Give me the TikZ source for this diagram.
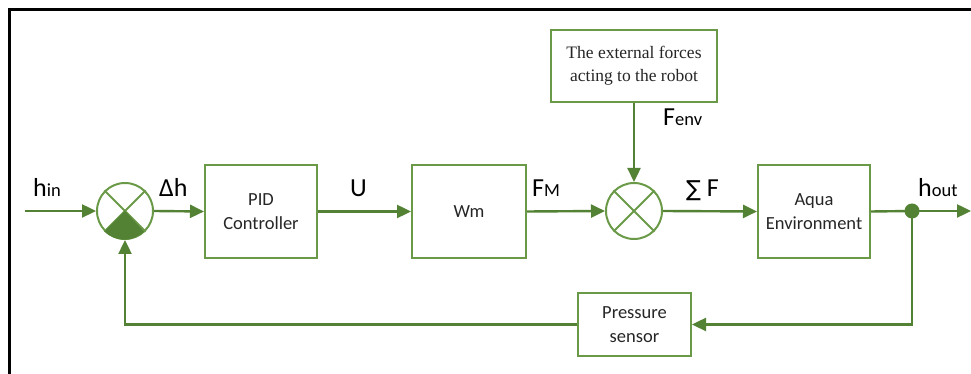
\documentclass[tikz,border=0pt]{standalone}
\usepackage{fontspec}
\setmainfont{Carlito}
\newfontfamily\timesfont{Liberation Serif}
\newfontfamily\symfont{DejaVu Sans}
\usepackage{xcolor}
\usetikzlibrary{positioning, calc, arrows.meta}
\definecolor{linegreen}{RGB}{84,130,53}
\definecolor{boxgreen}{RGB}{106,154,72}
\definecolor{textgray}{RGB}{38,38,38}
\tikzset{
  block/.style={draw=boxgreen, line width=2pt, fill=white, minimum width=112pt, minimum height=93pt,
    align=center, text=textgray, font=\fontsize{18.5}{24}\selectfont},
  sumnode/.style={draw=boxgreen, line width=2pt, circle, minimum size=56pt, inner sep=0pt},
  sig/.style={draw=linegreen, line width=2.4pt, -{Triangle[length=14pt,width=13pt]}},
  wire/.style={draw=linegreen, line width=2.4pt},
  siglabel/.style={anchor=base west, inner sep=0pt, text=black, font=\fontsize{26}{30}\selectfont},
}
\newcommand{\sub}[1]{{\fontsize{18.5}{22}\selectfont #1}}
\begin{document}
\begin{tikzpicture}[x=1pt,y=1pt]
        \useasboundingbox (0,0) rectangle (971,374);
        
        % ==========================================
        % Frame
        % ==========================================
        \draw[line width=3pt] (9,0) -- (9,364) -- (971,364);
        
        % ==========================================
        % Blocks and summing points
        % ==========================================
        \node[sumnode] (sumA) at (125,163) {};
        \node[block] (pid) at (261,162.5) {PID\\Controller};
        \node[block, minimum width=114pt] (wm) at (469,162.5) {Wm};
        \node[sumnode] (sumB) at (634,163) {};
        \node[block] (aqua) at (814,162.5) {Aqua\\Environment};
        \node[block, minimum width=166pt, minimum height=72pt, font=\timesfont\fontsize{17.5}{23}\selectfont]
          (ext) at (634,308) {The external forces\\acting to the robot};
        \node[block, minimum width=113pt, minimum height=63pt] (sensor) at (634.5,49.5) {Pressure\\sensor};
        \node[circle, fill=linegreen, minimum size=15pt, inner sep=0pt] (split) at (912,163) {};
        
        % crosses inside the summing points
        \foreach \s in {sumA,sumB} {
          \draw[boxgreen, line width=2pt] (\s.45) -- (\s.-135);
          \draw[boxgreen, line width=2pt] (\s.135) -- (\s.-45);
        }
        % filled lower sector of the first summing point
        \fill[linegreen] (sumA.center) -- (sumA.-135) arc[start angle=-135, end angle=-45, radius=28pt] -- cycle;
        
        % ==========================================
        % Signal flow
        % ==========================================
        \coordinate (hin) at (25,163);
        \coordinate (hout) at (971,163);
        \draw[sig] (hin) -- (sumA.west);
        \draw[sig] (sumA.east) -- (pid.west);
        \draw[sig] (pid.east) -- (wm.west);
        \draw[sig] (wm.east) -- (sumB.west);
        \draw[sig] (ext.south) -- (sumB.north);
        \draw[sig] (sumB.east) -- (aqua.west);
        \draw[wire] (aqua.east) -- (split.center);
        \draw[sig] (split.center) -- (hout);
        
        % feedback loop
        \draw[sig] (split.center) -- (split |- sensor) -- (sensor.east);
        \draw[sig] (sensor.west) -- (sumA |- sensor) -- (sumA.south);
        
        % ==========================================
        % Labels
        % ==========================================
        \node[siglabel] (lhin) at (33,177) {h\sub{in}};
        \node[siglabel] (ldh) at (159,177) {Δh};
        \node[siglabel] (lu) at (350,177) {U};
        \node[siglabel] (lfm) at (532,177) {F\sub{M}};
        \node[siglabel] (lsum) at (686,177) {{\symfont\fontsize{22}{28}\selectfont ∑} F};
        \node[siglabel] (lout) at (918,177) {h\sub{out}};
        \node[siglabel] (lenv) at (663,248) {F\sub{env}};
        
    \end{tikzpicture}
\end{document}
